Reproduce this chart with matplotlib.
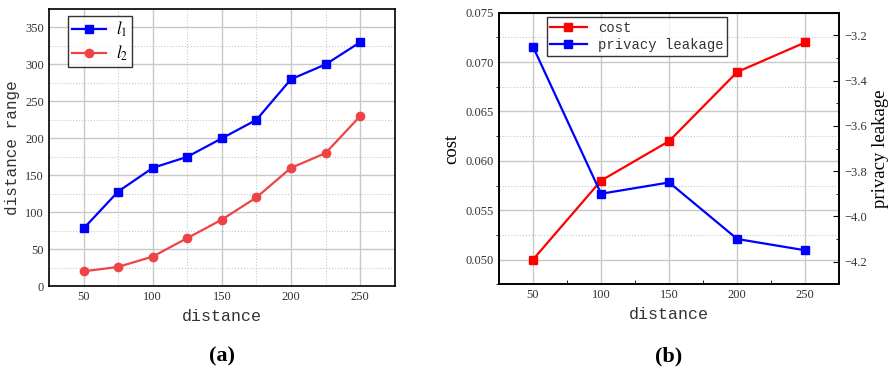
import numpy as np
import matplotlib.pyplot as plt
from matplotlib.ticker import MultipleLocator

plt.rcParams['mathtext.fontset'] = 'stix'

# data for subplot (a)
dist_a = [50, 75, 100, 125, 150, 175, 200, 225, 250]
l1 = [78, 128, 160, 175, 200, 225, 280, 300, 330]
l2 = [20, 26, 40, 65, 90, 120, 160, 180, 230]

# data for subplot (b)
dist_b = [50, 100, 150, 200, 250]
cost = [0.050, 0.058, 0.062, 0.069, 0.072]
leak = [-3.25, -3.90, -3.85, -4.10, -4.15]

mono = 'Liberation Mono'
serif = 'Liberation Serif'
tcol = '#333333'

fig = plt.figure(figsize=(8.91, 3.75), dpi=100)
ax1 = fig.add_axes([0.055, 0.237, 0.388, 0.739])
ax2 = fig.add_axes([0.560, 0.242, 0.382, 0.724])

#(a)
ax1.plot(dist_a, l1, color='#0000ff', marker='s', ms=6, lw=1.6, label='$l_1$')
ax1.plot(dist_a, l2, color='#ee4444', marker='o', ms=6, lw=1.6, label='$l_2$')
ax1.set_xlim(25, 275)
ax1.set_ylim(0, 375)
ax1.xaxis.set_major_locator(MultipleLocator(50))
ax1.xaxis.set_minor_locator(MultipleLocator(25))
ax1.yaxis.set_major_locator(MultipleLocator(50))
ax1.yaxis.set_minor_locator(MultipleLocator(25))
ax1.grid(which='major', color='#c8c8c8', lw=1.0)
ax1.grid(which='minor', color='#c8c8c8', lw=0.8, ls=':')
ax1.set_axisbelow(True)
ax1.tick_params(which='both', direction='in', length=0, labelsize=9, labelcolor=tcol)
ax1.set_xlabel('distance', fontfamily=mono, fontsize=12, color=tcol)
ax1.set_ylabel('distance range', fontfamily=mono, fontsize=11.5, color=tcol)
for lab in ax1.get_xticklabels() + ax1.get_yticklabels():
    lab.set_fontfamily(serif)
leg1 = ax1.legend(loc='upper left', bbox_to_anchor=(0.055, 0.975), borderaxespad=0,
                  fontsize=12, fancybox=False, edgecolor='black',
                  handlelength=2.0, borderpad=0.25, labelspacing=0.25, handletextpad=0.6)
leg1.get_frame().set_linewidth(1.0)

#(b)
ax2.plot(dist_b, cost, color='#ff0000', marker='s', ms=6, lw=1.6, label='cost')
ax3 = ax2.twinx()
ax3.plot(dist_b, leak, color='#0000ff', marker='s', ms=6, lw=1.6, label='privacy leakage')
ax2.set_xlim(25, 275)
ax2.set_ylim(0.0475, 0.075)
ax3.set_ylim(-4.3, -3.1)
ax2.xaxis.set_major_locator(MultipleLocator(50))
ax2.xaxis.set_minor_locator(MultipleLocator(25))
ax2.yaxis.set_major_locator(MultipleLocator(0.005))
ax2.yaxis.set_minor_locator(MultipleLocator(0.0025))
ax3.yaxis.set_major_locator(MultipleLocator(0.2))
ax3.yaxis.set_minor_locator(MultipleLocator(0.1))
ax2.grid(which='major', color='#c8c8c8', lw=1.0)
ax2.grid(which='minor', axis='y', color='#c8c8c8', lw=0.8, ls=':')
ax2.set_axisbelow(True)
ax2.tick_params(which='major', direction='in', length=0, labelsize=9, labelcolor=tcol)
ax2.tick_params(axis='x', which='minor', direction='in', length=3)
ax3.tick_params(which='major', direction='in', length=4, labelsize=9, labelcolor=tcol)
ax3.tick_params(which='minor', direction='in', length=2)
ax2.yaxis.set_major_formatter(plt.FuncFormatter(lambda v, p: '%.3f' % v))
ax3.yaxis.set_major_formatter(plt.FuncFormatter(lambda v, p: '\u2212%.1f' % abs(v)))
ax2.set_xlabel('distance', fontfamily=mono, fontsize=12, color=tcol)
ax2.set_ylabel('cost', fontfamily=serif, fontsize=13.5)
ax3.set_ylabel('privacy leakage', fontfamily=serif, fontsize=13.5)
for lab in ax2.get_xticklabels() + ax2.get_yticklabels() + ax3.get_yticklabels():
    lab.set_fontfamily(serif)
h2, lb2 = ax2.get_legend_handles_labels()
h3, lb3 = ax3.get_legend_handles_labels()
leg2 = ax3.legend(h2 + h3, lb2 + lb3, loc='upper left', bbox_to_anchor=(0.141, 0.984),
                  borderaxespad=0, prop={'family': mono, 'size': 10}, fancybox=False,
                  edgecolor='black', handlelength=2.6, borderpad=0.25, labelspacing=0.25)
leg2.get_frame().set_linewidth(1.0)
for t in leg2.get_texts():
    t.set_color(tcol)

for ax in (ax1, ax2, ax3):
    for s in ax.spines.values():
        s.set_linewidth(1.2)

fig.text(0.249, 0.035, '(a)', fontfamily=serif, fontweight='bold', fontsize=16, ha='center')
fig.text(0.75, 0.035, '(b)', fontfamily=serif, fontweight='bold', fontsize=16, ha='center')

fig.savefig('out.png', dpi=100)
